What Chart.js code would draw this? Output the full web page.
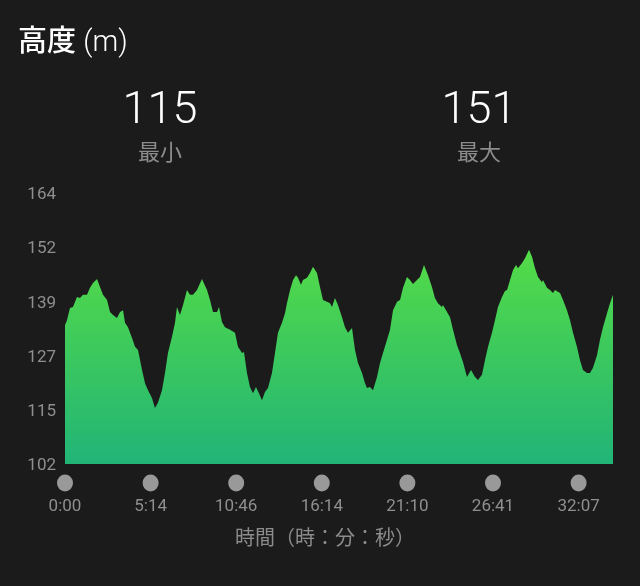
<!DOCTYPE html>
<html>
<head>
<meta charset="utf-8">
<script src="https://cdn.jsdelivr.net/npm/chart.js@4"></script>
<style>
  html, body { margin: 0; padding: 0; background: #1b1b1b; }
  #wrap { position: relative; width: 640px; height: 586px; overflow: hidden; }
  #c { position: absolute; left: 0; top: 0; }
  .title { position: absolute; left: 18px; top: 18px; color: #fff; font-size: 29px; line-height: 40px; white-space: nowrap; }
  .title .cjk { font-family: "Noto Sans CJK JP", sans-serif; font-weight: 500; }
  .title .unit { font-family: Roboto, sans-serif; font-weight: 300; }
  .stat { position: absolute; width: 200px; text-align: center; }
  .stat .num { font-family: Roboto, sans-serif; font-weight: 300; font-size: 45px; color: #fff; line-height: 52px; }
  .stat .lbl { font-family: "Noto Sans CJK JP", sans-serif; font-size: 22px; color: #8c8c8c; line-height: 32px; }
  .axis-title { position: absolute; left: 0; width: 650px; top: 522px; text-align: center; font-family: "Noto Sans CJK JP", sans-serif; font-size: 20px; color: #8c8c8c; line-height: 30px; }
</style>
</head>
<body>
<div id="wrap">
  <canvas id="c" width="640" height="586"></canvas>
  <div class="title"><span class="cjk">高度</span> <span class="unit">(m)</span></div>
  <div class="stat" style="left:60px; top:82px;"><div class="num" id="minVal"></div><div class="lbl">最小</div></div>
  <div class="stat" style="left:379px; top:82px;"><div class="num" id="maxVal"></div><div class="lbl">最大</div></div>
  <div class="axis-title">時間（時：分：秒）</div>
</div>
<script>
// elevation profile (x in tick units, 1 unit = one time label step)
const xPos = [
  0, 0.023, 0.058, 0.093, 0.140, 0.175, 0.210, 0.257, 0.292, 0.327, 0.374, 0.409, 0.444, 0.491,
  0.526, 0.561, 0.607, 0.643, 0.678, 0.701, 0.736, 0.783, 0.818, 0.853, 0.900, 0.935, 0.970,
  1.016, 1.051, 1.086, 1.133, 1.168, 1.203, 1.250, 1.285, 1.308, 1.343, 1.379, 1.425, 1.460,
  1.495, 1.542, 1.600, 1.659, 1.694, 1.729, 1.776, 1.799, 1.834, 1.869, 1.928, 1.986, 2.021,
  2.068, 2.091, 2.126, 2.161, 2.196, 2.231, 2.266, 2.301, 2.336, 2.371, 2.418, 2.453, 2.488,
  2.535, 2.570, 2.593, 2.629, 2.664, 2.699, 2.722, 2.757, 2.780, 2.827, 2.862, 2.897, 2.944,
  2.979, 3.014, 3.061, 3.096, 3.119, 3.154, 3.189, 3.236, 3.271, 3.306, 3.353, 3.388, 3.423,
  3.470, 3.505, 3.528, 3.563, 3.598, 3.645, 3.680, 3.715, 3.762, 3.797, 3.832, 3.879, 3.914,
  3.949, 3.995, 4.030, 4.065, 4.112, 4.147, 4.194, 4.241, 4.287, 4.322, 4.357, 4.404, 4.416,
  4.463, 4.498, 4.533, 4.579, 4.614, 4.650, 4.696, 4.743, 4.790, 4.825, 4.871, 4.907, 4.942,
  4.988, 5.023, 5.058, 5.105, 5.140, 5.164, 5.199, 5.234, 5.269, 5.292, 5.339, 5.374, 5.421,
  5.456, 5.491, 5.526, 5.572, 5.584, 5.631, 5.666, 5.701, 5.724, 5.783, 5.818, 5.864, 5.900,
  5.935, 5.981, 6.016, 6.051, 6.098, 6.133, 6.168, 6.215, 6.250, 6.285, 6.332, 6.367, 6.402
];
const elevation = [
  133.8, 134.9, 137.7, 137.9, 140.2, 140.0, 140.7, 140.7, 142.3, 143.4, 144.3, 142.5, 140.7, 139.5,
  136.8, 136.1, 135.4, 136.8, 137.2, 134.3, 133.3, 130.8, 128.8, 128.1, 123.5, 120.5, 118.9,
  117.1, 114.8, 116.0, 118.9, 122.8, 127.4, 131.1, 134.3, 137.9, 136.1, 138.4, 141.8, 140.7,
  140.7, 141.8, 144.3, 141.8, 139.5, 136.8, 136.8, 137.9, 134.5, 133.3, 132.7, 132.0, 128.8,
  127.4, 127.6, 122.8, 119.6, 118.2, 119.6, 118.2, 116.6, 118.5, 119.4, 122.8, 127.4, 132.0,
  134.3, 136.5, 138.8, 141.8, 144.1, 145.2, 144.6, 143.0, 144.1, 144.6, 145.7, 147.1, 145.7,
  142.5, 139.5, 139.1, 138.8, 137.9, 140.0, 138.4, 135.6, 133.3, 132.0, 133.1, 128.1, 125.1,
  122.8, 120.5, 119.4, 119.6, 118.9, 121.9, 125.1, 127.4, 130.4, 132.7, 137.2, 139.1, 139.5,
  142.3, 144.8, 144.1, 143.2, 144.1, 144.8, 147.5, 145.2, 142.5, 140.0, 138.8, 137.9, 138.4,
  136.8, 135.6, 132.7, 129.2, 127.4, 125.3, 121.9, 123.5, 121.9, 121.2, 122.4, 125.8, 128.8,
  132.0, 134.9, 137.9, 140.2, 141.6, 141.8, 144.1, 146.4, 147.5, 146.8, 148.0, 149.1, 151.0,
  149.4, 146.8, 144.8, 143.6, 144.1, 142.3, 141.8, 141.1, 141.8, 141.1, 139.5, 137.2, 134.9,
  132.0, 128.8, 125.8, 123.5, 122.8, 122.8, 124.0, 126.9, 130.4, 133.3, 136.5, 138.8, 140.7
];
const timeLabels = ['0:00', '5:14', '10:46', '16:14', '21:10', '26:41', '32:07'];
const yTickLabels = ['102', '115', '127', '139', '152', '164'];
const minElevation = 115;
const maxElevation = 151;

document.getElementById('minVal').textContent = minElevation;
document.getElementById('maxVal').textContent = maxElevation;

const Y_MIN = 102, Y_MAX = 164;
const TICK_COLOR = '#8f8f8f';

const points = xPos.map((x, i) => ({ x: x, y: elevation[i] }));

// grey dots sitting above each time label
const dotPlugin = {
  id: 'timeDots',
  afterDraw(chart) {
    const xs = chart.scales.x;
    const ctx = chart.ctx;
    ctx.save();
    ctx.fillStyle = '#999999';
    xs.ticks.forEach(t => {
      const px = xs.getPixelForValue(t.value);
      ctx.beginPath();
      ctx.ellipse(px, chart.chartArea.bottom + 19, 8, 8.5, 0, 0, Math.PI * 2);
      ctx.fill();
    });
    ctx.restore();
  }
};

const ctx = document.getElementById('c').getContext('2d');
const chart = new Chart(ctx, {
  type: 'line',
  data: {
    datasets: [{
      data: points,
      fill: 'start',
      borderWidth: 0,
      pointRadius: 0,
      tension: 0,
      backgroundColor: (c) => {
        const area = c.chart.chartArea;
        if (!area) return '#3ccf55';
        const g = c.chart.ctx.createLinearGradient(0, area.top, 0, area.bottom);
        g.addColorStop(0, '#62e63a');
        g.addColorStop(1, '#21b477');
        return g;
      }
    }]
  },
  options: {
    responsive: false,
    animation: false,
    layout: { padding: { top: 193, right: 27, left: 0, bottom: 0 } },
    plugins: { legend: { display: false }, tooltip: { enabled: false } },
    scales: {
      x: {
        type: 'linear',
        min: 0,
        max: xPos[xPos.length - 1],
        grid: { display: false, drawTicks: false },
        border: { display: false },
        afterBuildTicks: (s) => { s.ticks = timeLabels.map((_, i) => ({ value: i })); },
        afterFit: (s) => { s.height = 122; },
        ticks: {
          padding: 33,
          maxRotation: 0,
          autoSkip: false,
          color: TICK_COLOR,
          font: { family: 'Roboto', size: 17 },
          callback: (v) => timeLabels[v]
        }
      },
      y: {
        min: Y_MIN,
        max: Y_MAX,
        grid: { display: false, drawTicks: false },
        border: { display: false },
        afterBuildTicks: (s) => {
          s.ticks = yTickLabels.map((_, i) => ({ value: Y_MIN + i * (Y_MAX - Y_MIN) / (yTickLabels.length - 1) }));
        },
        afterFit: (s) => { s.width = 65; },
        ticks: {
          padding: 9,
          labelOffset: 2,
          color: TICK_COLOR,
          font: { family: 'Roboto', size: 17 },
          callback: function (v, i) { return yTickLabels[i]; }
        }
      }
    }
  },
  plugins: [dotPlugin]
});
</script>
</body>
</html>
